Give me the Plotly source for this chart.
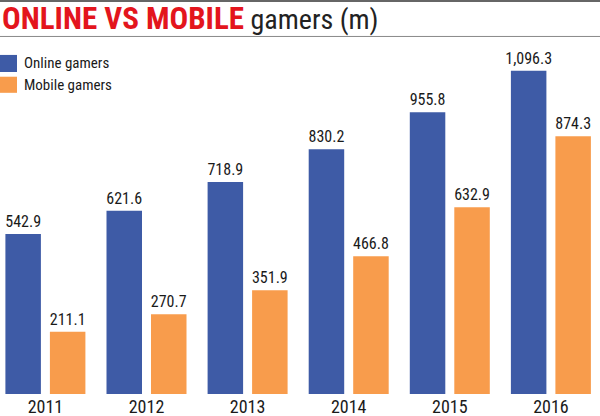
import plotly.graph_objects as go

years = ["2011", "2012", "2013", "2014", "2015", "2016"]
online = [542.9, 621.6, 718.9, 830.2, 955.8, 1096.3]
mobile = [211.1, 270.7, 351.9, 466.8, 632.9, 874.3]
series_names = ["Online gamers", "Mobile gamers"]

BLUE = "#3e5ba6"
ORANGE = "#f89c4c"
FONT = "Liberation Sans Narrow, Roboto Condensed, DejaVu Sans Condensed, sans-serif"

W, H = 600, 416
unit = 101.1
x0 = -45.4 / unit
x1 = (W - 45.4) / unit
bw = 35.5 / unit
gap = 9 / unit

fig = go.Figure()
fig.add_trace(go.Bar(
    x=list(range(len(years))), y=online, name=series_names[0],
    marker=dict(color=BLUE, line=dict(width=0)),
    width=bw, offset=-(bw + gap / 2),
    text=[f"{v:,.1f}" for v in online], textposition="outside", constraintext="none",
    textfont=dict(family=FONT, size=16, color="#1a1a1a"),
    cliponaxis=False, hoverinfo="skip",
))
fig.add_trace(go.Bar(
    x=list(range(len(years))), y=mobile, name=series_names[1],
    marker=dict(color=ORANGE, line=dict(width=0)),
    width=bw, offset=gap / 2,
    text=[f"{v:,.1f}" for v in mobile], textposition="outside", constraintext="none",
    textfont=dict(family=FONT, size=16, color="#1a1a1a"),
    cliponaxis=False, hoverinfo="skip",
))

ymax = 394 / 0.2949

fig.update_layout(
    width=W, height=H,
    margin=dict(l=0, r=0, t=0, b=22),
    paper_bgcolor="white", plot_bgcolor="white",
    showlegend=False,
    barmode="group",
    xaxis=dict(range=[x0, x1], tickmode="array", tickvals=list(range(len(years))),
               ticktext=years, showgrid=False, zeroline=False, showline=False,
               ticks="", ticklen=0, automargin=False, fixedrange=True,
               tickfont=dict(family=FONT, size=18, color="#1a1a1a")),
    yaxis=dict(range=[0, ymax], visible=False, showgrid=False, zeroline=False, fixedrange=True),
    font=dict(family=FONT),
)

shapes = [
    dict(type="line", xref="paper", yref="paper", x0=0, x1=1, y0=1 - 1 / H, y1=1 - 1 / H,
         line=dict(color="#666666", width=2)),
    dict(type="line", xref="paper", yref="paper", x0=0, x1=1, y0=1 - 38.5 / H, y1=1 - 38.5 / H,
         line=dict(color="#888888", width=1)),
    dict(type="rect", xref="paper", yref="paper", x0=0, x1=17 / W,
         y0=1 - 76 / H, y1=1 - 58 / H, fillcolor=BLUE, line=dict(width=0)),
    dict(type="rect", xref="paper", yref="paper", x0=0, x1=17 / W,
         y0=1 - 98 / H, y1=1 - 81 / H, fillcolor=ORANGE, line=dict(width=0)),
]
fig.update_layout(shapes=shapes)

annotations = [
    dict(xref="paper", yref="paper", x=0 / W, y=1 - 20 / H, xanchor="left", yanchor="middle",
         showarrow=False,
         text="<b><span style='color:#e3151d;font-size:31px'>ONLINE VS MOBILE</span></b> "
              "<span style='color:#222222'>gamers (m)</span>",
         font=dict(family=FONT, size=28)),
    dict(xref="paper", yref="paper", x=22 / W, y=1 - 67 / H, xanchor="left", yanchor="middle",
         showarrow=False, text=series_names[0], font=dict(family=FONT, size=15, color="#1a1a1a")),
    dict(xref="paper", yref="paper", x=22 / W, y=1 - 90 / H, xanchor="left", yanchor="middle",
         showarrow=False, text=series_names[1], font=dict(family=FONT, size=15, color="#1a1a1a")),
]
fig.update_layout(annotations=annotations)

fig.write_html("out.html", config={"displayModeBar": False, "staticPlot": True},
               post_script="document.body.style.margin='0';document.body.style.padding='0';")
